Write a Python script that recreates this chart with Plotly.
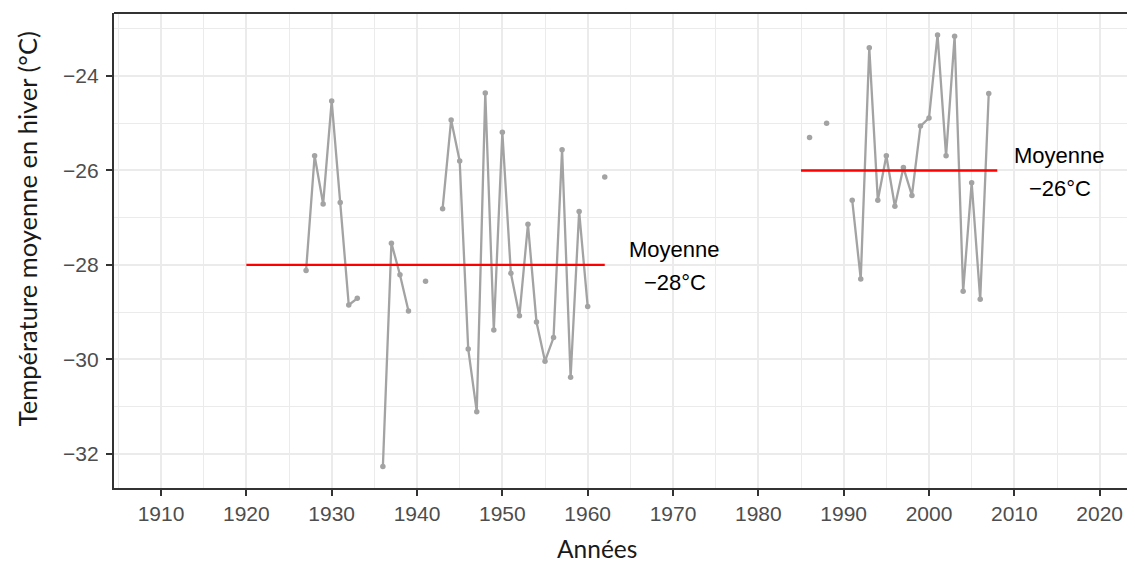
import plotly.graph_objects as go

# Data (None = missing year, breaks the line)
years = [1927, 1928, 1929, 1930, 1931, 1932, 1933, 1934, 1935, 1936, 1937, 1938, 1939,
         1940, 1941, 1942, 1943, 1944, 1945, 1946, 1947, 1948, 1949, 1950, 1951, 1952,
         1953, 1954, 1955, 1956, 1957, 1958, 1959, 1960, 1961, 1962,
         1963, 1986, 1987, 1988, 1989, 1990,
         1991, 1992, 1993, 1994, 1995, 1996, 1997, 1998, 1999, 2000, 2001, 2002, 2003,
         2004, 2005, 2006, 2007]
temps = [-28.12, -25.69, -26.71, -24.53, -26.68, -28.85, -28.71, None, None, -32.27, -27.54, -28.21, -28.98,
         None, -28.35, None, -26.81, -24.93, -25.80, -29.78, -31.11, -24.36, -29.38, -25.19, -28.18, -29.08,
         -27.14, -29.21, -30.04, -29.54, -25.56, -30.38, -26.87, -28.88, None, -26.14,
         None, -25.30, None, -25.00, None, None,
         -26.63, -28.30, -23.40, -26.63, -25.69, -26.76, -25.94, -26.53, -25.06, -24.89, -23.13, -25.69, -23.16,
         -28.56, -26.26, -28.73, -24.37]

# Period means
mean_start = [1920, 1985]
mean_end = [1962, 2008]
mean_value = [-28, -26]
mean_label_x = [1970.2, 2015.3]
mean_label = ["−28°C", "−26°C"]

x_ticks = [1910, 1920, 1930, 1940, 1950, 1960, 1970, 1980, 1990, 2000, 2010, 2020]
y_ticks = [-32, -30, -28, -26, -24]

x_title = "Années"
y_title = "Température moyenne en hiver (°C)"

GRID = "#EBEBEB"
AXIS = "#333333"
TICKFONT = dict(family="Liberation Sans, Arial, sans-serif", size=21, color="#4D4D4D")
TITLEFONT = dict(family="Lato, Carlito, sans-serif", size=24.5, color="#1A1A1A")
YTITLEFONT = dict(family="Lato, Carlito, sans-serif", size=25.5, color="#1A1A1A")

fig = go.Figure()

fig.add_trace(go.Scatter(
    x=years, y=temps, mode="lines+markers",
    line=dict(color="#A3A3A3", width=2.3),
    marker=dict(color="#A3A3A3", size=5.5),
    connectgaps=False, showlegend=False, hoverinfo="x+y"))

for s, e, v in zip(mean_start, mean_end, mean_value):
    fig.add_trace(go.Scatter(
        x=[s, e], y=[v, v], mode="lines",
        line=dict(color="#FF0000", width=2.4),
        showlegend=False))

for lx, lv, lt in zip(mean_label_x, mean_value, mean_label):
    fig.add_annotation(x=lx, y=lv, text="Moyenne", showarrow=False,
                       xanchor="center", yanchor="middle", yshift=15,
                       font=dict(family="Liberation Sans, Arial, sans-serif", size=22, color="black"))
    fig.add_annotation(x=lx, y=lv, text=lt, showarrow=False,
                       xanchor="center", yanchor="middle", yshift=-18,
                       font=dict(family="Liberation Sans, Arial, sans-serif", size=22, color="black"))

# axis titles (placed as in the reference)
fig.add_annotation(xref="paper", yref="paper", x=0.473, y=0, text=x_title,
                   showarrow=False, xanchor="center", yanchor="middle", yshift=-60,
                   font=TITLEFONT)
fig.add_annotation(xref="paper", yref="paper", x=0, y=0.545, text=y_title,
                   showarrow=False, xanchor="center", yanchor="middle", xshift=-87,
                   textangle=-90, font=YTITLEFONT)

# top border of the panel
fig.add_shape(type="line", xref="paper", yref="paper", x0=0, x1=1, y0=1, y1=1,
              line=dict(color=AXIS, width=2.2))

fig.update_xaxes(
    range=[1904.49, 2024.14],
    tickmode="array", tickvals=x_ticks, ticktext=[str(t) for t in x_ticks],
    showgrid=True, gridcolor=GRID, gridwidth=1.8,
    minor=dict(tickmode="linear", tick0=1905, dtick=5, showgrid=True, gridcolor=GRID, gridwidth=0.9, ticks=""),
    showline=True, linecolor=AXIS, linewidth=2.2,
    ticks="outside", ticklen=6, tickwidth=2, tickcolor=AXIS,
    tickfont=TICKFONT, zeroline=False)

fig.update_yaxes(
    range=[-32.727, -22.665],
    tickmode="array", tickvals=y_ticks,
    showgrid=True, gridcolor=GRID, gridwidth=1.8,
    minor=dict(tickmode="linear", tick0=-33, dtick=2, showgrid=True, gridcolor=GRID, gridwidth=0.9, ticks=""),
    showline=True, linecolor=AXIS, linewidth=2.2,
    ticks="outside", ticklen=6, tickwidth=2, tickcolor=AXIS,
    ticklabelstandoff=3,
    tickfont=TICKFONT, zeroline=False)

# page body has an 8px margin, so the margins are offset to land the panel
# at the same screen position as the reference
fig.update_layout(
    width=1135, height=568,
    margin=dict(l=106, r=8, t=5, b=88),
    plot_bgcolor="white", paper_bgcolor="white",
    showlegend=False)

fig.write_html("out.html")
